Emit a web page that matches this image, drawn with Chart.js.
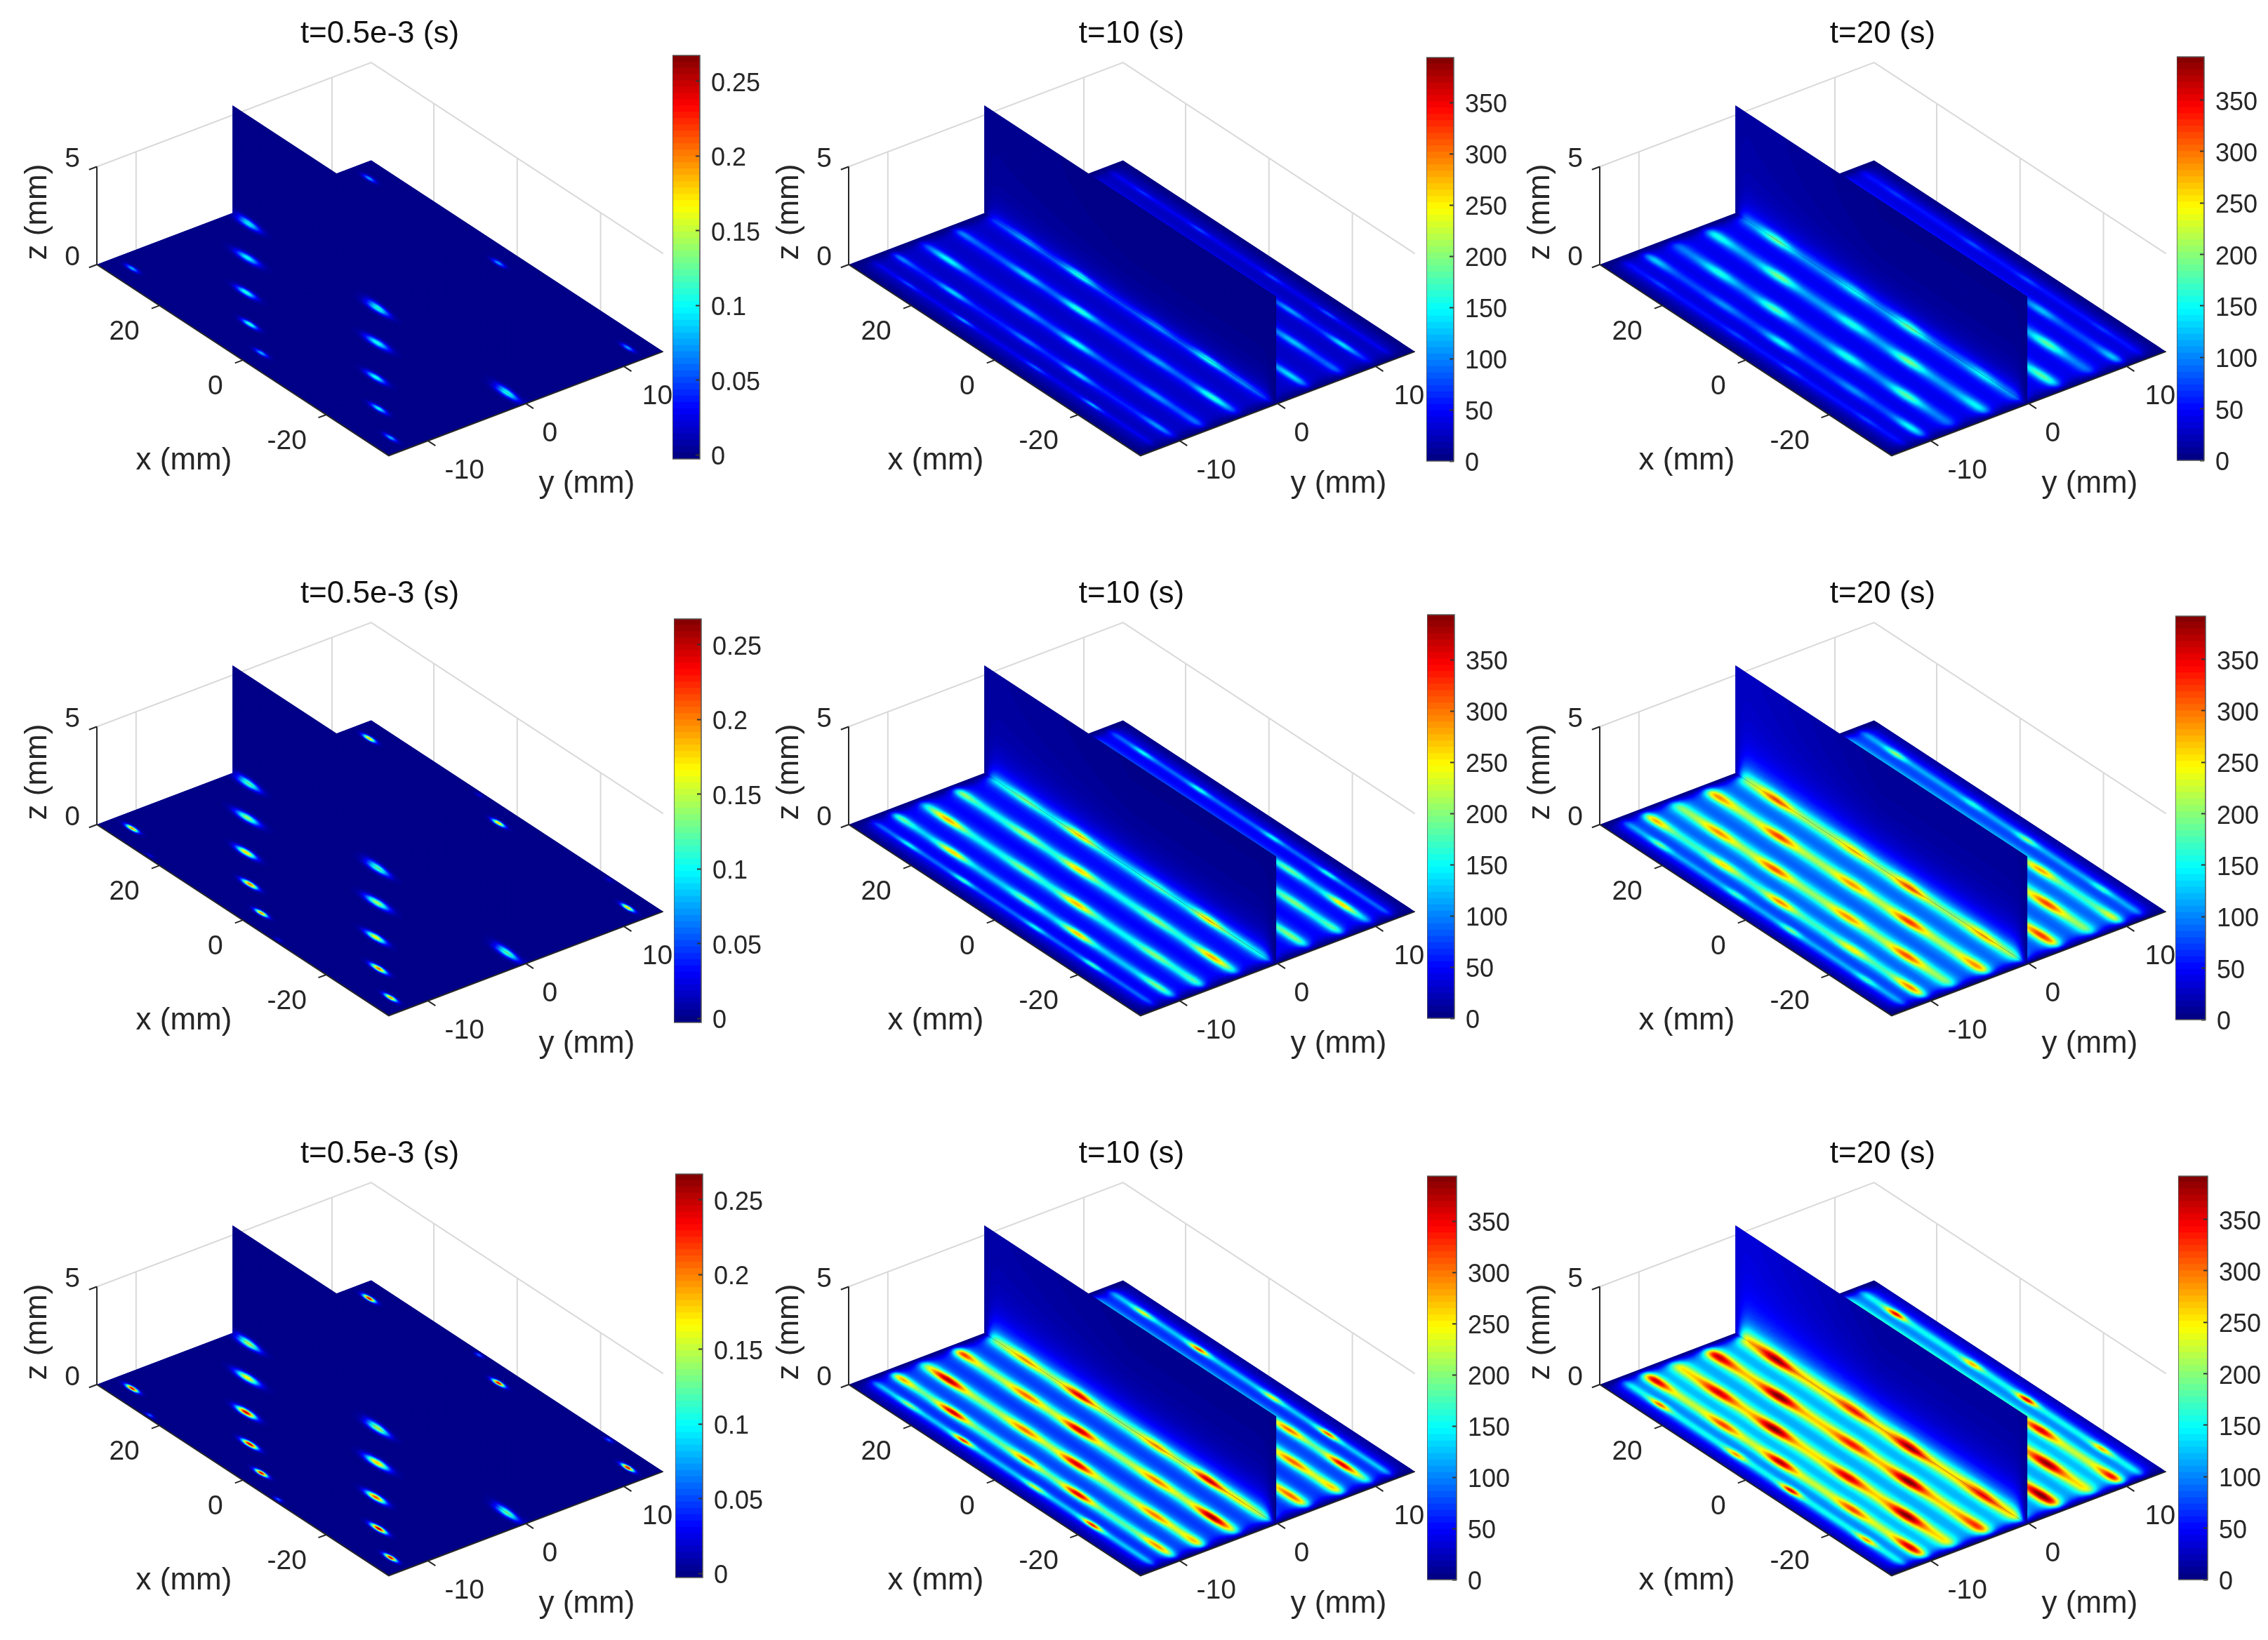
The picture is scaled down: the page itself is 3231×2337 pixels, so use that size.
<!DOCTYPE html>
<html>
<head>
<meta charset="utf-8">
<title>Temperature field panels</title>
<script src="https://cdn.jsdelivr.net/npm/chart.js@4/dist/chart.umd.js"></script>
<style>
  html, body { margin: 0; background: #fff; width: 3231px; height: 2337px; overflow: hidden; }
  canvas { position: absolute; }
</style>
</head>
<body>
<script>
// text and ticks
const titles = ["t=0.5e-3 (s)", "t=10 (s)", "t=20 (s)"];
const xTicks = [20, 0, -20];
const yTicks = [-10, 0, 10];
const zTicks = [0, 5];
const earlyBarTicks = [0, 0.05, 0.1, 0.15, 0.2, 0.25];
const lateBarTicks = [0, 50, 100, 150, 200, 250, 300, 350];

// colour bar limits per column
const barMin = [-0.0027, 0, 0];
const barMax = [0.2673, 394, 392];

// scan tracks on the floor (mm), and the streak level along each track
const trackY = [-12.1, -10, -7.1, -3.6, -0.15, 3.6, 7.1, 10, 12.1];
const streak10R1 = [25, 42, 58, 62, 62, 62, 58, 42, 25];
const streak10R2 = [65, 105, 128, 132, 132, 132, 128, 105, 65];
const streak10R3 = [105, 165, 190, 195, 195, 195, 190, 165, 105];
const streak20R1 = [35, 55, 78, 88, 88, 88, 78, 55, 35];
const streak20R2 = [85, 145, 182, 188, 188, 188, 182, 145, 85];
const streak20R3 = [125, 205, 240, 245, 245, 245, 240, 205, 125];

// hot spots at t=10
const hot10Y = [-12.1, -12.1, -12.1, -12.1, -10, -10, -10, -10, -10, -7.1, -7.1, -7.1, -7.1, -7.1,
  -3.6, -3.6, -3.6, -3.6, -3.6, -0.15, -0.15, -0.15, -0.15, -0.15, 3.6, 7.1, 7.1, 10, 10, 12.1, 12.1, 12.1, 12.1];
const hot10X = [25, 12, -5.3, -19, 32, 19.4, 1.9, -10.6, -29.5, 27.3, 9, -3.5, -22.2, -32.5,
  33, 16.8, 4.1, -14.4, -27.8, 25, 12, -6.5, -19, -26.7, -29.5, -22, -32, -14.3, -27, 25.7, 12.3, -5.3, -18.7];
const hot10R1 = [60, 90, 70, 100, 85, 115, 80, 115, 90, 135, 95, 135, 90, 80,
  90, 110, 150, 95, 150, 100, 150, 95, 150, 90, 120, 110, 75, 95, 120, 50, 60, 60, 65];
const hot10R2 = [130, 150, 130, 150, 170, 245, 170, 250, 175, 260, 180, 255, 180, 165,
  200, 190, 245, 180, 260, 180, 250, 170, 250, 150, 180, 180, 165, 170, 240, 130, 140, 130, 140];
const hot10R3 = [185, 310, 210, 320, 270, 345, 280, 340, 270, 360, 285, 345, 280, 265,
  330, 285, 350, 280, 370, 270, 340, 275, 350, 240, 290, 290, 255, 285, 340, 215, 300, 220, 295];

// hot spots at t=20
const hot20Y = [-12.1, -12.1, -12.1, -12.1, -10, -10, -10, -10, -10, -7.1, -7.1, -7.1, -7.1,
  -3.6, -3.6, -3.6, -3.6, -3.6, -0.15, -0.15, -0.15, -0.15, 3.6, 7.1, 10, 10, 12.1, 12.1, 12.1, 12.1];
const hot20X = [25, 6.8, -6.4, -24.5, 31, 14.7, 1.1, -16.2, -30, 22.6, 9.3, -8.3, -22.4,
  31, 16.4, -1, -14.7, -30.8, 25, 6.4, -7, -24.6, -29.6, -22.7, -14.4, -31.7, 25.3, 6.9, -6.1, -24.1];
const hot20R1 = [55, 55, 60, 55, 110, 85, 130, 85, 130, 140, 160, 140, 165,
  140, 175, 140, 175, 130, 175, 135, 175, 135, 165, 165, 105, 110, 50, 60, 60, 50];
const hot20R2 = [165, 140, 165, 140, 250, 230, 265, 225, 270, 265, 290, 265, 290,
  265, 295, 260, 300, 265, 290, 250, 295, 260, 300, 295, 255, 210, 175, 130, 170, 140];
const hot20R3 = [280, 260, 330, 260, 345, 300, 355, 300, 345, 345, 380, 345, 380,
  350, 380, 320, 380, 310, 365, 320, 370, 330, 380, 370, 340, 330, 320, 250, 330, 250];

// beam spots at t=0.5e-3
const earlyY = [-13.6, -13.6, -12.1, -12.1, -12.1, -10, -10, -7.1, -7.1, -3.6, -3.6, -0.15, -0.15, -0.15, 12.1, 12.1, 12.1, 13.6, 13.6];
const earlyX = [23.2, -7.6, 31, 0, -31, 7.7, -23.2, 15.4, -15.7, 23.3, -7.8, 31, 0, -31, 31, 0, -31, 8.2, -22.9];
const earlyR1 = [0, 0, 0.08, 0.08, 0.08, 0.115, 0.1, 0.11, 0.105, 0.1, 0.105, 0.1, 0.11, 0.11, 0.075, 0.075, 0.075, 0, 0];
const earlyR2 = [0.02, 0.02, 0.2, 0.2, 0.2, 0.21, 0.21, 0.18, 0.17, 0.14, 0.145, 0.125, 0.125, 0.125, 0.19, 0.19, 0.19, 0.02, 0.02];
const earlyR3 = [0.06, 0.06, 0.25, 0.25, 0.25, 0.26, 0.26, 0.25, 0.22, 0.17, 0.185, 0.15, 0.15, 0.13, 0.25, 0.25, 0.25, 0.06, 0.06];

// blob shape of the early spots (mm), same order as earlyX
const earlyLen = [0.8, 0.8, 1.35, 1.35, 1.35, 1.7, 1.7, 2.1, 2.1, 2.5, 2.5, 2.5, 2.5, 2.5, 1.35, 1.35, 1.35, 0.8, 0.8];
const earlyWid = [0.17, 0.17, 0.22, 0.22, 0.22, 0.26, 0.26, 0.32, 0.32, 0.38, 0.38, 0.4, 0.4, 0.4, 0.22, 0.22, 0.22, 0.17, 0.17];

// streak shape: half width per row (mm), narrowing of the outer tracks, spot length per track,
// level between the streaks, wall glow
const width10 = [0.5, 0.6, 0.7];
const width20 = [0.7, 0.8, 0.9];
const trackNarrow = [0.55, 0.85, 1, 1, 1, 1, 1, 0.85, 0.55];
const spotLength = [2.2, 3.3, 3.7, 3.7, 3.7, 3.7, 3.7, 3.3, 2.2];
const valley10 = [18, 20, 15];
const valley20 = [18, 20, 10];
const glow10 = [5, 8, 10];
const glow20 = [10, 18, 25];

// view: one mm along each axis on the page
const X_DIR = [-5.94, -3.89], Y_DIR = [13.96, -5.3], Z_DIR = [0, -27.9];
const ORIGIN = [138, 377];        // (x=35, y=-14, z=0) inside a panel canvas
const colShift = [0, 1071, 2141];
const rowShift = [0, 798, 1596];
const PANEL_W = 1082, PANEL_H = 770, TITLE_H = 71;
const X_LIM = 35, Y_LIM = 14, WALL_Y = -0.15, WALL_TOP = 5.5;
const barBoxes = [
  [[958, 997, 79, 654], [2032, 2071, 82, 657], [3101, 3140, 81, 656]],
  [[960, 999, 882, 1457], [2033, 2072, 876, 1451], [3099, 3142, 878, 1453]],
  [[962, 1001, 1673, 2248], [2033, 2075, 1676, 2251], [3103, 3145, 1676, 2251]],
];
const xTickOffset = [-50, -39, -56], yTickOffset = [52, 34, 47.7];

const INK = "#262626";
const NX = 280, NY = 280, NZ = 90, LEVELS = 128;
const dx = 2 * X_LIM / NX, dy = 2 * Y_LIM / NY, dz = WALL_TOP / NZ;

Chart.defaults.font.family = '"Liberation Sans", Arial, sans-serif';
Chart.defaults.color = INK;

function project(x, y, z) {
  const a = x - X_LIM, b = y + Y_LIM;
  return {
    x: ORIGIN[0] + a * X_DIR[0] + b * Y_DIR[0] + z * Z_DIR[0],
    y: ORIGIN[1] + a * X_DIR[1] + b * Y_DIR[1] + z * Z_DIR[1],
  };
}

function jet(t) {
  const c = (v) => Math.round(255 * Math.max(0, Math.min(1, v)));
  const r = 1.5 - Math.abs(4 * t - 3), g = 1.5 - Math.abs(4 * t - 2), b = 1.5 - Math.abs(4 * t - 1);
  return `rgb(${c(r)},${c(g)},${c(b)})`;
}

const jetBins = Array.from({ length: LEVELS }, (_, i) => jet(i / (LEVELS - 1)));

function cellX(i) { return -X_LIM + (i + 0.5) * dx; }
function cellY(j) { return -Y_LIM + (j + 0.5) * dy; }
function cellZ(k) { return (k + 0.5) * dz; }

function earlyField(peaks) {
  const alongX = earlyX.map((sx, s) => Float32Array.from({ length: NX }, (_, i) => Math.exp(-(((cellX(i) - sx) / earlyLen[s]) ** 2))));
  const alongY = earlyY.map((sy, s) => Float32Array.from({ length: NY }, (_, j) => Math.exp(-(((cellY(j) - sy) / earlyWid[s]) ** 2))));
  const onWall = earlyY.map((sy, s) => (sy === WALL_Y ? s : -1)).filter((s) => s >= 0);
  return {
    floor(i, j) {
      let v = 0;
      for (let s = 0; s < peaks.length; s++) v += peaks[s] * alongX[s][i] * alongY[s][j];
      return v;
    },
    // the spots on the wall line carry on up the wall
    wall(i, k) {
      let v = 0;
      for (const s of onWall) v += peaks[s] * alongX[s][i] * Math.exp(-((cellZ(k) / (0.52 * earlyWid[s])) ** 2));
      return v;
    },
  };
}

function lateField(hotX, hotY, peaks, streak, w, valley, glow) {
  const fade = Float32Array.from({ length: NX }, (_, i) => 1 - Math.exp(-(((X_LIM - Math.abs(cellX(i))) / 1.8) ** 2)));
  const norm = 1 + 2 / (1 + (3.5 / w) ** 2);
  const base = trackY.map((ty, t) => Float32Array.from({ length: NX }, (_, i) => streak[t] * fade[i] / norm));
  const hot = trackY.map((ty, t) => {
    const row = new Float32Array(NX);
    for (let i = 0; i < NX; i++) {
      let a = 0;
      hotX.forEach((hx, h) => {
        if (hotY[h] === ty) a += (peaks[h] - streak[t]) * Math.exp(-(((cellX(i) - hx) / spotLength[t]) ** 2));
      });
      row[i] = a * fade[i];
    }
    return row;
  });
  const across = trackY.map((ty, t) => Float32Array.from({ length: NY }, (_, j) => 1 / (1 + ((cellY(j) - ty) / (w * trackNarrow[t])) ** 2)));
  const acrossHot = trackY.map((ty, t) => Float32Array.from({ length: NY }, (_, j) => Math.exp(-(((cellY(j) - ty) / (0.75 * w * trackNarrow[t])) ** 2))));
  const rim = Float32Array.from({ length: NY }, (_, j) => 1 - Math.exp(-(((Y_LIM - Math.abs(cellY(j))) / 1) ** 2)));
  const centre = trackY.indexOf(WALL_Y);
  const wallBase = Float32Array.from({ length: NZ }, (_, k) => 0.75 / (1 + (cellZ(k) / (0.52 * w)) ** 2) + 0.25 / (1 + (cellZ(k) / 1.1) ** 2));
  const wallHot = Float32Array.from({ length: NZ }, (_, k) => Math.exp(-((cellZ(k) / (0.4 * w)) ** 2)));
  return {
    floor(i, j) {
      let v = valley * fade[i] * rim[j];
      for (let t = 0; t < trackY.length; t++) v += base[t][i] * across[t][j] + hot[t][i] * acrossHot[t][j];
      return v;
    },
    wall(i, k) {
      return (norm * base[centre][i]) * wallBase[k] + hot[centre][i] * wallHot[k]
        + glow * Math.max(0, cellX(i) / X_LIM) + glow * 0.3;
    },
  };
}

// paints one face through the chart's scales; cells of one colour in a row along x become one quad
function paintFace(ctx, toPx, pointAt, nu, nv, valueAt, lo, hi) {
  const quad = (u0, u1, v0, v1) => {
    const a = toPx(pointAt(u0, v0)), b = toPx(pointAt(u1, v0)), c = toPx(pointAt(u1, v1)), d = toPx(pointAt(u0, v1));
    ctx.beginPath();
    ctx.moveTo(a[0], a[1]); ctx.lineTo(b[0], b[1]); ctx.lineTo(c[0], c[1]); ctx.lineTo(d[0], d[1]);
    ctx.closePath();
  };
  ctx.save();
  quad(0, nu, 0, nv);
  ctx.fillStyle = jetBins[0];
  ctx.fill();
  ctx.clip();
  for (let v = 0; v < nv; v++) {
    let start = 0, current = -1;
    for (let u = 0; u <= nu; u++) {
      let bin = -2;
      if (u < nu) bin = Math.max(0, Math.min(LEVELS - 1, Math.round((valueAt(u, v) - lo) / (hi - lo) * (LEVELS - 1))));
      if (bin === current) continue;
      if (current > 0) {
        quad(start, u + 0.5, v, v + 1.5);
        ctx.fillStyle = jetBins[current];
        ctx.fill();
      }
      start = u;
      current = bin;
    }
  }
  ctx.restore();
}

const fieldPlugin = {
  id: "fieldPlugin",
  afterDatasetDraw(chart, args) {
    const ds = chart.data.datasets[args.index];
    if (!ds.field) return;
    const { x: xs, y: ys } = chart.scales;
    const toPx = (p) => {
      const q = project(p[0], p[1], p[2]);
      return [xs.getPixelForValue(q.x), ys.getPixelForValue(q.y)];
    };
    const f = ds.field;
    paintFace(chart.ctx, toPx, (u, v) => [-X_LIM + u * dx, -Y_LIM + v * dy, 0], NX, NY, f.floor, ds.lo, ds.hi);
    paintFace(chart.ctx, toPx, (u, v) => [-X_LIM + u * dx, WALL_Y, v * dz], NX, NZ, f.wall, ds.lo, ds.hi);
  },
};

const labelPlugin = {
  id: "labelPlugin",
  afterDraw(chart) {
    const { ctx, scales: { x: xs, y: ys } } = chart;
    const at = (x, y, z) => {
      const p = project(x, y, z);
      return [xs.getPixelForValue(p.x), ys.getPixelForValue(p.y)];
    };
    ctx.save();
    ctx.fillStyle = INK;
    ctx.textAlign = "center";
    ctx.textBaseline = "middle";
    ctx.font = '39px "Liberation Sans", Arial, sans-serif';
    xTicks.forEach((t, n) => {
      const p = at(t, -Y_LIM, 0);
      ctx.fillText(String(t), p[0] + xTickOffset[n], p[1] + 38);
    });
    yTicks.forEach((t, n) => {
      const p = at(-X_LIM, t, 0);
      ctx.fillText(String(t), p[0] + yTickOffset[n], p[1] + 43);
    });
    zTicks.forEach((t) => {
      const p = at(X_LIM, -Y_LIM, t);
      ctx.fillText(String(t), p[0] - 35, p[1] - 10);
    });
    ctx.font = '44px "Liberation Sans", Arial, sans-serif';
    const o = at(X_LIM, -Y_LIM, 0);
    ctx.fillText("x (mm)", o[0] + 124, o[1] + 280);
    ctx.fillText("y (mm)", o[0] + 698, o[1] + 313);
    ctx.translate(o[0] - 84, o[1] - 75);
    ctx.rotate(-Math.PI / 2);
    ctx.fillText("z (mm)", 0, 0);
    ctx.restore();
  },
};

const barFrame = {
  id: "barFrame",
  afterDraw(chart) {
    const { ctx, chartArea: a } = chart;
    ctx.save();
    ctx.strokeStyle = "#555";
    ctx.lineWidth = 1.5;
    ctx.strokeRect(a.left, a.top, a.right - a.left, a.bottom - a.top);
    ctx.restore();
  },
};

function addCanvas(left, top, w, h) {
  const c = document.createElement("canvas");
  c.width = w; c.height = h;
  c.style.left = left + "px"; c.style.top = top + "px";
  c.style.width = w + "px"; c.style.height = h + "px";
  document.body.appendChild(c);
  return c;
}

// line pieces separated by gaps, all in projected coordinates
function pieces(list) {
  const out = [];
  list.forEach((seg) => {
    seg.forEach((p) => out.push(project(p[0], p[1], p[2])));
    out.push({ x: NaN, y: NaN });
  });
  return out;
}

const gridLines = pieces([
  [[X_LIM, -Y_LIM, 5], [X_LIM, Y_LIM, 5], [-X_LIM, Y_LIM, 5]],
  ...yTicks.map((t) => [[X_LIM, t, 0], [X_LIM, t, 5]]),
  ...xTicks.map((t) => [[t, Y_LIM, 0], [t, Y_LIM, 5]]),
]);
const axisLines = pieces([
  [[X_LIM, -Y_LIM, 5], [X_LIM, -Y_LIM, 0], [-X_LIM, -Y_LIM, 0], [-X_LIM, Y_LIM, 0]],
  ...zTicks.map((t) => [[X_LIM, -Y_LIM, t], [X_LIM, -Y_LIM - 0.8, t]]),
  ...xTicks.map((t) => [[t, -Y_LIM, 0], [t, -Y_LIM - 0.8, 0]]),
  ...yTicks.map((t) => [[-X_LIM, t, 0], [-X_LIM - 1.8, t, 0]]),
]);

function drawPanel(col, row, field, spotsX, spotsY) {
  const lo = barMin[col], hi = barMax[col];
  const canvas = addCanvas(colShift[col], rowShift[row], PANEL_W, PANEL_H);
  new Chart(canvas, {
    type: "scatter",
    data: {
      datasets: [
        { label: "grid", data: gridLines, showLine: true, spanGaps: false, pointRadius: 0, borderColor: "#d9d9d9", borderWidth: 2, order: 3 },
        {
          label: titles[col], data: spotsX.map((x, n) => project(x, spotsY[n], 0)),
          pointRadius: 0, field, lo, hi, order: 2,
        },
        { label: "axes", data: axisLines, showLine: true, spanGaps: false, pointRadius: 0, borderColor: INK, borderWidth: 2, order: 1 },
      ],
    },
    options: {
      responsive: false,
      animation: false,
      events: [],
      devicePixelRatio: 1,
      layout: { padding: 0 },
      scales: {
        x: { type: "linear", display: false, min: 0, max: PANEL_W },
        y: { type: "linear", display: false, min: TITLE_H, max: PANEL_H, reverse: true },
      },
      plugins: {
        legend: { display: false },
        tooltip: { enabled: false },
        title: {
          display: true, text: titles[col], color: "#111",
          font: { size: 44, weight: "normal", lineHeight: 1 },
          padding: { top: 27, bottom: 0 },
        },
      },
    },
    plugins: [fieldPlugin, labelPlugin],
  });
}

function drawBar(col, row) {
  const box = barBoxes[row][col];
  const lo = barMin[col], hi = barMax[col];
  const ticks = col === 0 ? earlyBarTicks : lateBarTicks;
  const steps = 64, w = box[1] - box[0], h = box[3] - box[2];
  const pad = 24, room = 90;
  const datasets = [];
  for (let i = 0; i < steps; i++) {
    datasets.push({
      data: [[lo + (hi - lo) * i / steps, lo + (hi - lo) * (i + 1) / steps]],
      backgroundColor: jet((i + 0.5) / steps),
      barPercentage: 1, categoryPercentage: 1, borderWidth: 0, inflateAmount: 0.5,
    });
  }
  new Chart(addCanvas(box[0], box[2] - pad, w + room, h + 2 * pad), {
    type: "bar",
    data: { labels: [""], datasets },
    options: {
      responsive: false,
      animation: false,
      events: [],
      devicePixelRatio: 1,
      layout: { padding: { top: pad, bottom: pad } },
      scales: {
        x: { display: false, stacked: true },
        y: {
          position: "right", min: lo, max: hi,
          afterBuildTicks: (s) => { s.ticks = ticks.map((value) => ({ value })); },
          afterFit: (s) => { s.width = room; s.paddingTop = 0; s.paddingBottom = 0; },
          border: { display: false },
          grid: { drawOnChartArea: false, tickLength: -6, tickColor: "#333", tickWidth: 2, z: 1 },
          ticks: {
            padding: 22, labelOffset: 4, color: INK, font: { size: 36 },
            callback: (v) => String(+(+v).toFixed(2)),
          },
        },
      },
      plugins: { legend: { display: false }, tooltip: { enabled: false }, title: { display: false } },
    },
    plugins: [barFrame],
  });
}

const earlyRows = [earlyR1, earlyR2, earlyR3];
const hot10Rows = [hot10R1, hot10R2, hot10R3];
const hot20Rows = [hot20R1, hot20R2, hot20R3];
const streak10Rows = [streak10R1, streak10R2, streak10R3];
const streak20Rows = [streak20R1, streak20R2, streak20R3];

for (let row = 0; row < 3; row++) {
  drawPanel(0, row, earlyField(earlyRows[row]), earlyX, earlyY);
  drawPanel(1, row, lateField(hot10X, hot10Y, hot10Rows[row], streak10Rows[row], width10[row], valley10[row], glow10[row]), hot10X, hot10Y);
  drawPanel(2, row, lateField(hot20X, hot20Y, hot20Rows[row], streak20Rows[row], width20[row], valley20[row], glow20[row]), hot20X, hot20Y);
  for (let col = 0; col < 3; col++) drawBar(col, row);
}
</script>
</body>
</html>
